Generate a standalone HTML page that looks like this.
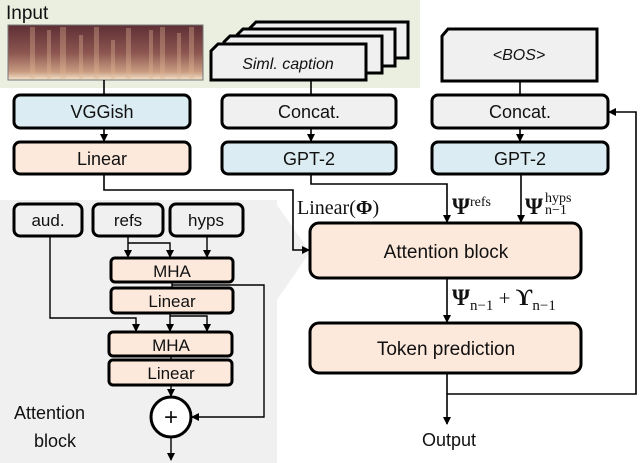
<!DOCTYPE html>
<html><head><meta charset="utf-8"><style>
html,body{margin:0;padding:0;background:#fff}
svg{display:block}
text{font-family:"Liberation Sans","DejaVu Sans",sans-serif;fill:#111}
.m{font-family:"Liberation Serif","DejaVu Serif",serif}
</style></head><body>
<svg width="640" height="463" viewBox="0 0 640 463" xmlns="http://www.w3.org/2000/svg">
<defs>
<marker id="a" markerWidth="8" markerHeight="8" refX="7" refY="4" orient="auto" markerUnits="userSpaceOnUse"><path d="M0,0 L8,4 L0,8 z" fill="#000"/></marker>
<linearGradient id="sp" x1="0" y1="0" x2="0" y2="1"><stop offset="0" stop-color="#5e2f35"/><stop offset="0.5" stop-color="#8c5550"/><stop offset="0.85" stop-color="#c89a80"/><stop offset="1" stop-color="#f3e6cc"/></linearGradient>
</defs>
<rect x="0" y="0" width="420" height="88" fill="#eaefdf"/>
<text x="6" y="19" font-size="19">Input</text>
<rect x="8" y="25" width="195" height="55" fill="url(#sp)" stroke="#777"/>
<g fill="#e0b896" opacity="0.35">
<rect x="30" y="27" width="5" height="52"/><rect x="47" y="30" width="4" height="49"/><rect x="60" y="27" width="6" height="52"/><rect x="79" y="35" width="4" height="44"/><rect x="94" y="27" width="5" height="52"/><rect x="111" y="40" width="4" height="39"/><rect x="126" y="28" width="5" height="51"/><rect x="149" y="30" width="4" height="49"/><rect x="160" y="27" width="5" height="52"/><rect x="177" y="33" width="4" height="46"/><rect x="189" y="27" width="5" height="52"/>
</g>
<rect x="0" y="200" width="277" height="263" fill="#f0f0f0"/>
<polygon points="277,205 310,252 277,300" fill="#f0f0f0"/>
<g stroke="#000" stroke-width="3" fill="#f0f0f0">
<path d="M256,22 L408,22 L408,58 L250,58 L250,28 z"/>
<path d="M243,29 L395,29 L395,66 L237,66 L237,35 z"/>
<path d="M230,36 L382,36 L382,73 L224,73 L224,42 z"/>
<path d="M218,44 L366,44 L366,80 L211,80 L211,51 z"/>
<path d="M448,29 L597,29 L597,81 L442,81 L442,36 z"/>
</g>
<text x="288" y="69" font-size="16" font-style="italic" text-anchor="middle">Siml. caption</text>
<text x="519" y="60" font-size="16" font-style="italic" text-anchor="middle">&lt;BOS&gt;</text>
<g stroke="#000" stroke-width="3">
<rect x="14" y="95" width="176" height="33" rx="6" fill="#dbedf3"/>
<rect x="14" y="142" width="176" height="32" rx="6" fill="#fde9dc"/>
<rect x="222" y="95" width="174" height="33" rx="6" fill="#f0f0f0"/>
<rect x="222" y="142" width="174" height="32" rx="6" fill="#dbedf3"/>
<rect x="432" y="95" width="176" height="33" rx="6" fill="#f0f0f0"/>
<rect x="432" y="142" width="176" height="32" rx="6" fill="#dbedf3"/>
<rect x="310" y="223" width="271" height="55" rx="9" fill="#fde9dc"/>
<rect x="310" y="323" width="271" height="50" rx="9" fill="#fde9dc"/>
</g>
<g font-size="18" text-anchor="middle">
<text x="102" y="118">VGGish</text>
<text x="102" y="165">Linear</text>
<text x="309" y="118">Concat.</text>
<text x="309" y="165">GPT-2</text>
<text x="520" y="118">Concat.</text>
<text x="520" y="165">GPT-2</text>
<text x="446" y="258" font-size="19">Attention block</text>
<text x="446" y="355" font-size="19">Token prediction</text>
<text x="449" y="446">Output</text>
</g>
<g stroke="#000" stroke-width="1.6" fill="none">
<line x1="104" y1="80" x2="104" y2="95"/>
<line x1="104" y1="128" x2="104" y2="141" marker-end="url(#a)"/>
<line x1="311" y1="80" x2="311" y2="95"/>
<line x1="311" y1="128" x2="311" y2="141" marker-end="url(#a)"/>
<line x1="520" y1="81" x2="520" y2="95"/>
<line x1="520" y1="128" x2="520" y2="141" marker-end="url(#a)"/>
<polyline points="104,174 104,190 293,190 293,250 309,250" marker-end="url(#a)"/>
<polyline points="311,174 311,184 447,184 447,222" marker-end="url(#a)"/>
<line x1="521" y1="174" x2="521" y2="222" marker-end="url(#a)"/>
<line x1="447" y1="278" x2="447" y2="322" marker-end="url(#a)"/>
<line x1="447" y1="373" x2="447" y2="424" marker-end="url(#a)"/>
<polyline points="447,394 636,394 636,112 609,112" marker-end="url(#a)"/>
</g>
<text class="m" x="297" y="214" font-size="20">Linear(<tspan font-weight="bold">Φ</tspan>)</text>
<text class="m" x="452" y="214" font-size="23" font-weight="bold">Ψ<tspan font-weight="normal" font-size="14" dy="-8">refs</tspan></text>
<text class="m" x="525" y="214" font-size="23" font-weight="bold">Ψ<tspan font-weight="normal" font-size="14" dx="2" dy="-12">hyps</tspan></text>
<text class="m" x="545" y="214" font-size="14">n−1</text>
<text class="m" x="452" y="305" font-size="23" font-weight="bold">Ψ<tspan font-weight="normal" font-size="15" dy="5">n−1</tspan><tspan font-weight="normal" font-size="21" dy="-5"> + </tspan>ϒ<tspan font-weight="normal" font-size="15" dy="5">n−1</tspan></text>
<g stroke="#000" stroke-width="3">
<rect x="14" y="204" width="68" height="32" rx="6" fill="#f0f0f0"/>
<rect x="93" y="204" width="70" height="32" rx="6" fill="#f0f0f0"/>
<rect x="170" y="204" width="73" height="32" rx="6" fill="#f0f0f0"/>
<rect x="111" y="258" width="122" height="24" rx="4" fill="#fde9dc"/>
<rect x="111" y="288" width="122" height="25" rx="4" fill="#fde9dc"/>
<rect x="109" y="332" width="123" height="24" rx="4" fill="#fde9dc"/>
<rect x="109" y="360" width="123" height="25" rx="4" fill="#fde9dc"/>
<circle cx="171" cy="417" r="20" fill="#fff"/>
</g>
<g font-size="17" text-anchor="middle">
<text x="48" y="226">aud.</text>
<text x="128" y="226">refs</text>
<text x="206" y="226">hyps</text>
<text x="172" y="277">MHA</text>
<text x="172" y="307">Linear</text>
<text x="171" y="351">MHA</text>
<text x="171" y="379">Linear</text>
<text x="171" y="425" font-size="24">+</text>
</g>
<text x="14" y="419" font-size="18">Attention</text>
<text x="34" y="447" font-size="18">block</text>
<g stroke="#000" stroke-width="1.4" fill="none">
<polyline points="128,236 128,257" marker-end="url(#a)"/>
<polyline points="128,243 170,243 170,257" marker-end="url(#a)"/>
<line x1="207" y1="236" x2="207" y2="257" marker-end="url(#a)"/>
<line x1="172" y1="282" x2="172" y2="288"/>
<polyline points="172,285 264,285 264,417 192,417" marker-end="url(#a)"/>
<polyline points="50,236 50,318 136,318 136,331" marker-end="url(#a)"/>
<line x1="170" y1="313" x2="170" y2="331" marker-end="url(#a)"/>
<polyline points="170,316 207,316 207,331" marker-end="url(#a)"/>
<line x1="171" y1="356" x2="171" y2="360"/>
<line x1="171" y1="385" x2="171" y2="396" marker-end="url(#a)"/>
<line x1="171" y1="437" x2="171" y2="460" marker-end="url(#a)"/>
</g>
</svg>
</body></html>
